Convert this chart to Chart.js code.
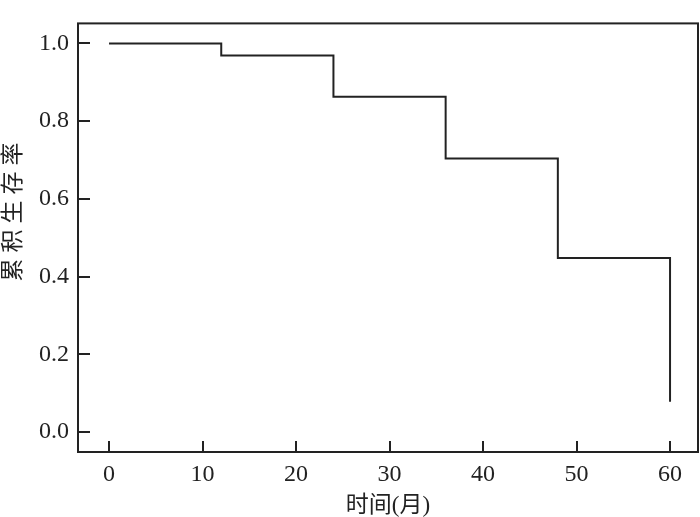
<!DOCTYPE html>
<html>
<head>
<meta charset="utf-8">
<script src="https://cdn.jsdelivr.net/npm/chart.js@4"></script>
<style>
    html, body { margin: 0; padding: 0; background: #fff; }
    canvas { display: block; }
</style>
</head>
<body>
<canvas id="kmChart" width="700" height="517"></canvas>
<script>
// Survival data (time in months, cumulative survival)
const months = [0, 12, 24, 36, 48, 60];
const survival = [1.0, 0.969, 0.863, 0.704, 0.448, 0.078];

// Tick values and labels
const xTicks = [0, 10, 20, 30, 40, 50, 60];
const yTicks = [0.0, 0.2, 0.4, 0.6, 0.8, 1.0];
const yTickLabels = ['0.0', '0.2', '0.4', '0.6', '0.8', '1.0'];

const xTitle = '时间(月)';
const yTitle = '累积生存率';

const FONT = '"Liberation Serif", "Times New Roman", "Noto Sans CJK SC", serif';
const INK = '#222';

// draws the box around the plot, the inward ticks and the y title
const framePlugin = {
    id: 'frame',
    afterDraw(chart) {
        const { ctx, chartArea: a, scales } = chart;
        ctx.save();
        ctx.strokeStyle = INK;
        ctx.lineWidth = 2;
        ctx.strokeRect(a.left, a.top, a.right - a.left, a.bottom - a.top);
        ctx.beginPath();
        xTicks.forEach(v => {
            const px = Math.round(scales.x.getPixelForValue(v));
            ctx.moveTo(px, a.bottom);
            ctx.lineTo(px, a.bottom - 11);
        });
        yTicks.forEach(v => {
            const py = Math.round(scales.y.getPixelForValue(v));
            ctx.moveTo(a.left, py);
            ctx.lineTo(a.left + 12, py);
        });
        ctx.stroke();

        // y axis title, a bit above centre like the original
        ctx.translate(14, 212);
        ctx.rotate(-Math.PI / 2);
        ctx.fillStyle = INK;
        ctx.font = '23px ' + FONT;
        ctx.letterSpacing = '6px';
        ctx.textAlign = 'center';
        ctx.textBaseline = 'middle';
        ctx.fillText(yTitle, 3, 0);
        ctx.restore();
    }
};

new Chart(document.getElementById('kmChart'), {
    type: 'scatter',
    data: {
        datasets: [{
            data: months.map((m, i) => ({ x: m, y: survival[i] })),
            showLine: true,
            stepped: 'before',
            borderColor: INK,
            borderWidth: 2,
            pointRadius: 0,
            fill: false
        }]
    },
    options: {
        responsive: false,
        animation: false,
        layout: { padding: { top: 2, right: 2, left: 0, bottom: 0 } },
        plugins: {
            legend: { display: false },
            tooltip: { enabled: false }
        },
        scales: {
            x: {
                type: 'linear',
                min: -3.32,
                max: 62.99,
                afterBuildTicks: s => { s.ticks = xTicks.map(v => ({ value: v })); },
                afterFit: s => { s.height = 65; },
                grid: { display: false, drawTicks: false },
                border: { display: false },
                ticks: {
                    padding: 8,
                    color: INK,
                    font: { family: FONT, size: 24 },
                    maxRotation: 0
                },
                title: {
                    display: true,
                    text: xTitle,
                    color: INK,
                    font: { family: FONT, size: 23 },
                    padding: { top: 0, bottom: -3 }
                }
            },
            y: {
                type: 'linear',
                min: -0.0515,
                max: 1.0515,
                afterBuildTicks: s => { s.ticks = yTicks.map(v => ({ value: v })); },
                afterFit: s => { s.width = 78; },
                grid: { display: false, drawTicks: false },
                border: { display: false },
                ticks: {
                    padding: 9,
                    color: INK,
                    font: { family: FONT, size: 24 },
                    callback: (v, i) => yTickLabels[i]
                },
                title: { display: false }
            }
        }
    },
    plugins: [framePlugin]
});
</script>
</body>
</html>
